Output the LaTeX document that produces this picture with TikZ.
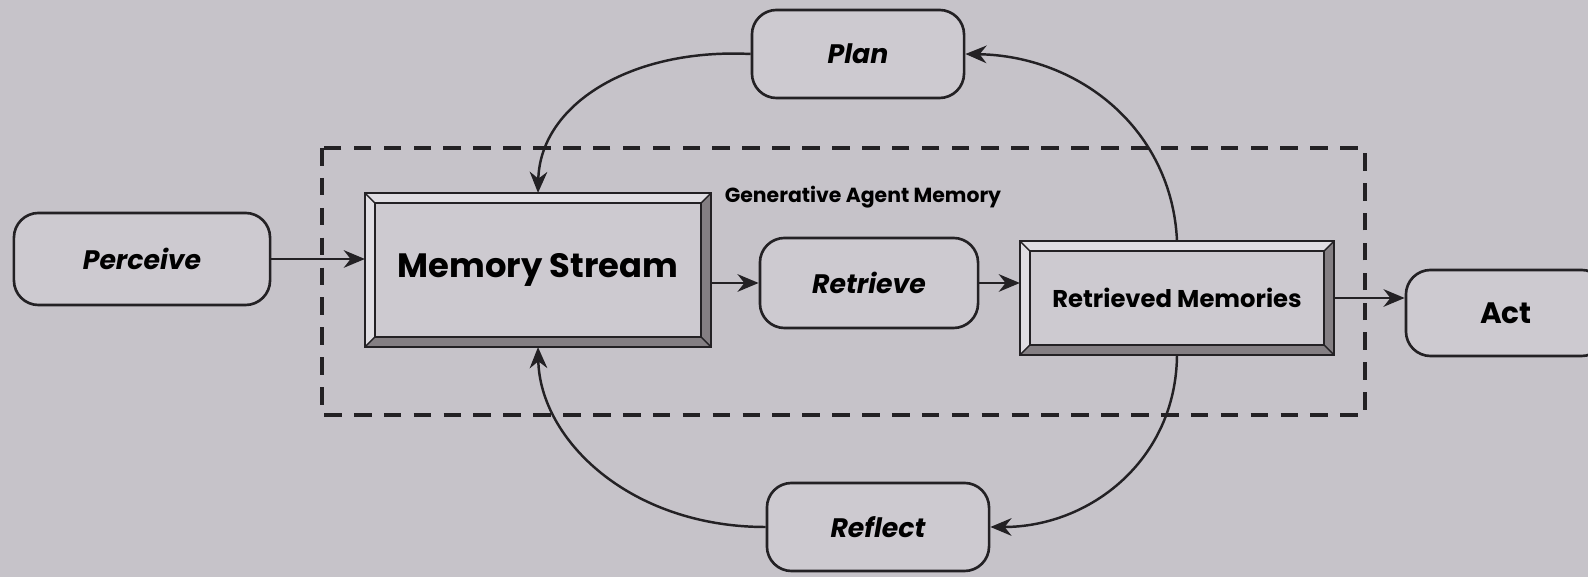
\documentclass[tikz,border=0pt]{standalone}
\usepackage{fontspec}
\setmainfont{Poppins}
\usetikzlibrary{arrows.meta,calc}

\definecolor{bg}{RGB}{198,195,201}
\definecolor{boxfill}{RGB}{205,202,208}
\definecolor{ink}{RGB}{35,33,36}
\definecolor{bevlight}{RGB}{224,222,227}
\definecolor{bevdark}{RGB}{132,127,131}

\tikzset{
  rbox/.style={draw=ink, fill=boxfill, line width=0.75pt, rounded corners=7pt,
    align=center, inner sep=0pt},
  frame/.style={draw=ink, fill=boxfill, line width=0.6pt, inner sep=0pt, align=center},
  arr/.style={draw=ink, line width=0.7pt, -{Stealth[length=6pt,width=5pt]}},
  dashbox/.style={draw=ink, line width=1pt, dash pattern=on 5pt off 3.5pt},
  itlabel/.style={font=\fontsize{7.6}{10}\selectfont\itshape\bfseries},
}

% bevelled frame around a rectangular node: light top/left, dark bottom/right
\newcommand\bevelframe[1]{%
  \fill[bevlight] (#1.north west) -- (#1.north east) -- ([shift={(-10,10)}]#1.north east)
     -- ([shift={(10,10)}]#1.north west) -- ([shift={(10,-10)}]#1.south west) -- (#1.south west) -- cycle;
  \fill[bevdark] (#1.south west) -- (#1.south east) -- (#1.north east) -- ([shift={(-10,10)}]#1.north east)
     -- ([shift={(-10,-10)}]#1.south east) -- ([shift={(10,-10)}]#1.south west) -- cycle;
  \draw[ink, line width=0.6pt] (#1.north west) rectangle (#1.south east);
  \draw[ink, line width=0.6pt] ([shift={(10,10)}]#1.north west) rectangle ([shift={(-10,-10)}]#1.south east);
  \draw[ink, line width=0.4pt] (#1.north west) -- ([shift={(10,10)}]#1.north west)
     (#1.north east) -- ([shift={(-10,10)}]#1.north east)
     (#1.south west) -- ([shift={(10,-10)}]#1.south west)
     (#1.south east) -- ([shift={(-10,-10)}]#1.south east);
}

\begin{document}
\begin{tikzpicture}[x=0.01cm, y=-0.01cm]
  \fill[bg] (0,0) rectangle (1588,577);
  \useasboundingbox (0,0) rectangle (1588,577);

  % memory region
  \draw[dashbox] (322,148) rectangle (1365,415);
  \node[font=\fontsize{5.8}{8}\selectfont\bfseries] (gam) at (863,197) {Generative Agent Memory};

  % outer steps
  \node[rbox, minimum width=2.56cm, minimum height=0.92cm, itlabel] (per) at (142,259) {Perceive};
  \node[rbox, minimum width=2.12cm, minimum height=0.88cm, itlabel] (plan) at (858,54) {Plan};
  \node[rbox, minimum width=2.22cm, minimum height=0.88cm, itlabel] (ref) at (878,527) {Reflect};
  \node[rbox, minimum width=2.18cm, minimum height=0.90cm, itlabel] (ret) at (869,283) {Retrieve};
  \node[rbox, minimum width=2.00cm, minimum height=0.86cm, font=\fontsize{8.4}{10}\selectfont\bfseries] (act) at (1506,313) {Act};

  % memory stores
  \node[frame, minimum width=3.44cm, minimum height=1.52cm] (ms) at (538,270) {};
  \bevelframe{ms}
  \node[font=\fontsize{9.6}{12}\selectfont\bfseries] (mst) at (ms.center) {Memory Stream};
  \node[frame, minimum width=3.12cm, minimum height=1.12cm] (rm) at (1177,298) {};
  \bevelframe{rm}
  \node[font=\fontsize{6.9}{9}\selectfont\bfseries] (rmt) at (rm.center) {Retrieved Memories};

  % straight flow
  \draw[arr] (per.east) -- (per.east -| ms.west);
  \draw[arr] (ms.east |- ret.west) -- (ret.west);
  \draw[arr] (ret.east) -- (ret.east -| rm.west);
  \draw[arr] (rm.east) -- (rm.east -| act.west);

  % feedback loops
  \draw[arr] (plan.west) .. controls (630,48) and (540,105) .. (ms.north);
  \draw[arr] (rm.north) .. controls (1172,130) and (1080,56) .. (plan.east);
  \draw[arr] (ref.west) .. controls (630,527) and (540,440) .. (ms.south);
  \draw[arr] (rm.south) .. controls (1176,460) and (1090,527) .. (ref.east);
\end{tikzpicture}
\end{document}
